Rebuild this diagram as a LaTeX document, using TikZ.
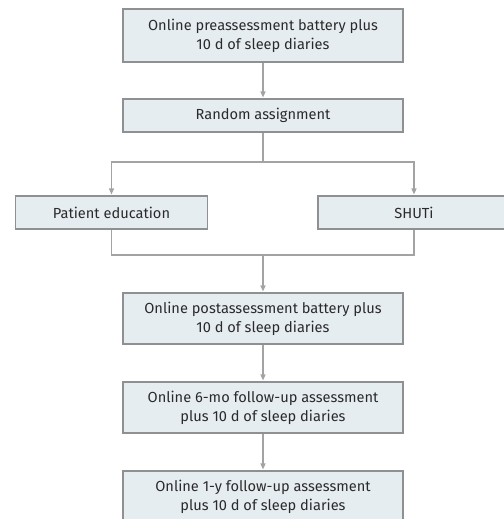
\documentclass[tikz,border=0pt]{standalone}
\usepackage{fontspec}
\setmainfont{Fira Sans}
\usetikzlibrary{arrows.meta}
\definecolor{boxfill}{HTML}{E6EDF1}
\definecolor{boxline}{HTML}{8E9092}
\definecolor{conn}{HTML}{A3A3A3}
\definecolor{txt}{HTML}{2A2A2A}
\begin{document}
\begin{tikzpicture}[x=1pt,y=-1pt,
  flowbox/.style={draw=boxline, fill=boxfill, line width=1.1pt, align=center, inner sep=0pt,
    text=txt, font=\fontsize{14.6}{19}\selectfont},
  wide/.style={minimum width=280pt},
  narrow/.style={minimum width=192pt},
  conline/.style={draw=conn, line width=1.3pt},
  arr/.style={conline, -{Triangle[length=6pt,width=5pt]}, shorten >=1pt}]
\useasboundingbox (0,0) rectangle (503,519);
\node[flowbox, wide, minimum height=53pt] (b1) at (263,35.5) {Online preassessment battery plus\\10 d of sleep diaries};
\node[flowbox, wide, minimum height=33pt] (b2) at (263,115.5) {Random assignment};
\node[flowbox, narrow, minimum height=33pt] (pe) at (111.5,212.5) {Patient education};
\node[flowbox, narrow, minimum height=33pt] (sh) at (414,212.5) {SHUTi};
\node[flowbox, wide, minimum height=51pt] (b3) at (263,318.5) {Online postassessment battery plus\\10 d of sleep diaries};
\node[flowbox, wide, minimum height=51pt] (b4) at (263,407.5) {Online 6-mo follow-up assessment\\plus 10 d of sleep diaries};
\node[flowbox, wide, minimum height=51pt] (b5) at (263,496.5) {Online 1-y follow-up assessment\\plus 10 d of sleep diaries};
\coordinate (split) at (263,162);
\coordinate (join) at (263,255);
\draw[arr] (b1) -- (b2);
\draw[conline] (b2) -- (split);
\draw[arr] (split) -| (pe.north);
\draw[arr] (split) -| (sh.north);
\draw[conline] (pe.south) |- (join);
\draw[conline] (sh.south) |- (join);
\draw[arr] (join) -- (b3);
\draw[arr] (b3) -- (b4);
\draw[arr] (b4) -- (b5);
\end{tikzpicture}
\end{document}
